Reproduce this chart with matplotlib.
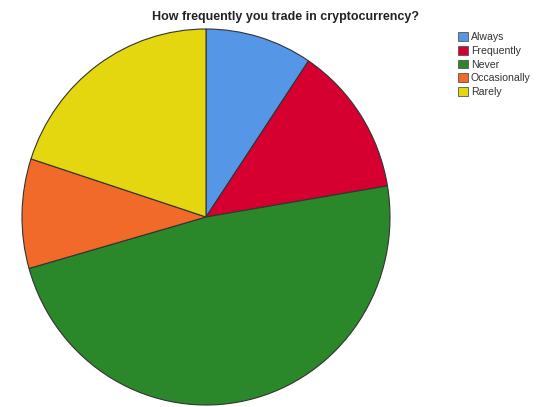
import matplotlib.pyplot as plt

# Responses to the trading frequency question
labels = ['Always', 'Frequently', 'Never', 'Occasionally', 'Rarely']
counts = [8, 11, 41, 8, 17]
colors = ['#5596e6', '#d5002f', '#2a882a', '#f26a2a', '#e5d70f']

fig = plt.figure(figsize=(5.39, 4.07), dpi=100)
fig.patch.set_facecolor('white')

# pie area in figure fractions (slightly taller than wide)
ax = fig.add_axes([22 / 539, 2 / 407, 368 / 539, 376 / 407])
wedges, _ = ax.pie(counts, colors=colors, startangle=90, counterclock=False,
                   wedgeprops=dict(edgecolor='#333333', linewidth=0.8))
ax.set_aspect('auto')
ax.set_xlim(-1, 1)
ax.set_ylim(-1, 1)
ax.axis('off')

fig.text(286 / 539, 1 - 17 / 407, 'How frequently you trade in cryptocurrency?',
         ha='center', va='center', fontsize=9, fontweight='bold',
         family='Liberation Sans', color='#222222')

leg = fig.legend(wedges, labels, loc='upper left', bbox_to_anchor=(453 / 539, 1 - 27 / 407),
                 frameon=False, handlelength=0.9, handleheight=0.9,
                 handletextpad=0.3, labelspacing=0.35, borderpad=0,
                 prop={'family': 'Liberation Sans', 'size': 7.6})
for h in leg.legend_handles:
    h.set_edgecolor('#555555')
    h.set_linewidth(0.6)
for t in leg.get_texts():
    t.set_color('#333333')

plt.savefig('out.png', dpi=100, facecolor='white')
plt.close()
